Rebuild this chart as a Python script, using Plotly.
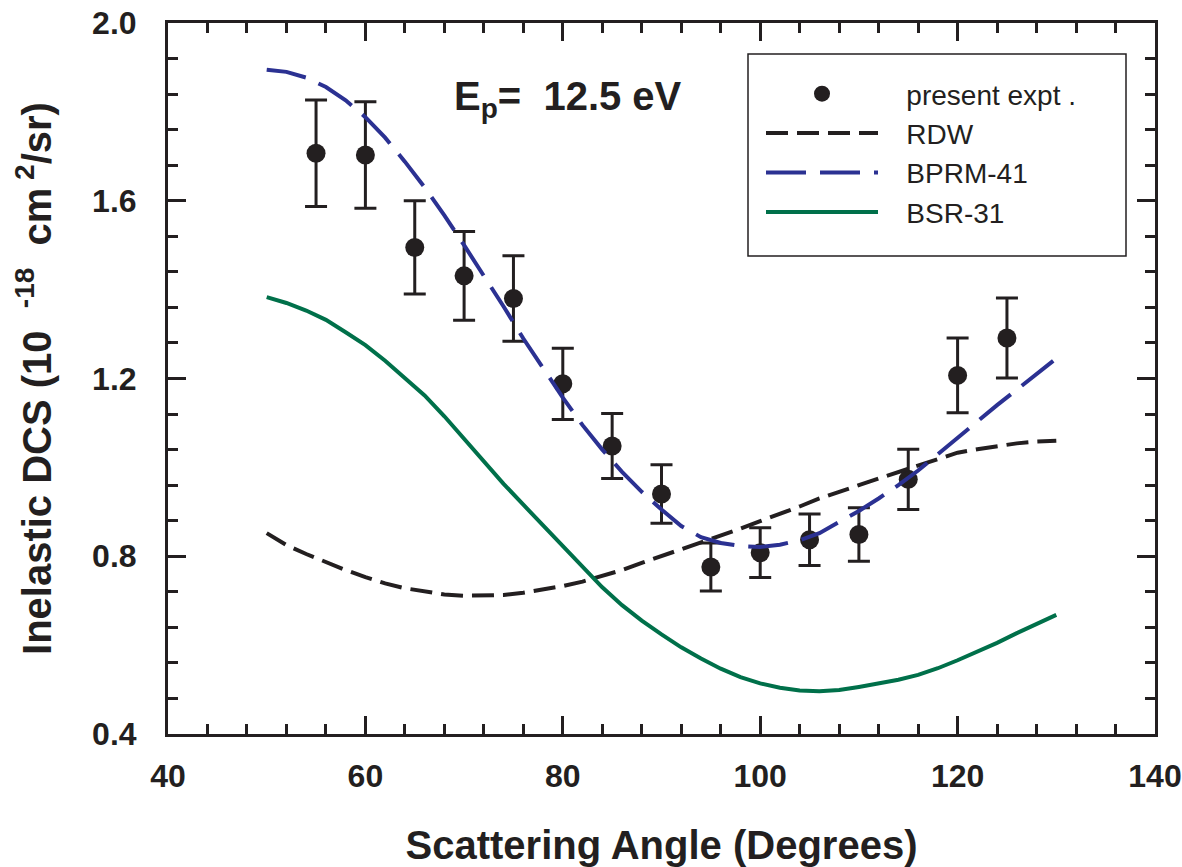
import plotly.graph_objects as go

# Experimental data (present expt.)
expt_angle = [55, 60, 65, 70, 75, 80, 85, 90, 95, 100, 105, 110, 115, 120, 125]
expt_dcs = [1.707, 1.703, 1.495, 1.431, 1.380, 1.188, 1.048, 0.940, 0.776, 0.808, 0.837, 0.849, 0.973, 1.207, 1.291]
expt_err = [0.120, 0.120, 0.105, 0.100, 0.096, 0.080, 0.073, 0.066, 0.054, 0.056, 0.058, 0.060, 0.068, 0.084, 0.090]

# Theory curves
theory_angle = [50, 52, 54, 56, 58, 60, 62, 64, 66, 68, 70, 72, 74, 76, 78, 80, 82, 84, 86, 88, 90,
                92, 94, 96, 98, 100, 102, 104, 106, 108, 110, 112, 114, 116, 118, 120, 122, 124, 126, 128, 130]
rdw = [0.852, 0.825, 0.805, 0.786, 0.769, 0.753, 0.739, 0.728, 0.720, 0.714, 0.711, 0.711, 0.713, 0.718,
       0.725, 0.733, 0.743, 0.756, 0.769, 0.785, 0.800, 0.815, 0.830, 0.846, 0.862, 0.879, 0.895, 0.912,
       0.930, 0.946, 0.960, 0.975, 0.990, 1.005, 1.020, 1.033, 1.041, 1.048, 1.054, 1.058, 1.060]
bprm41 = [1.895, 1.890, 1.877, 1.856, 1.826, 1.788, 1.742, 1.688, 1.630, 1.567, 1.500, 1.432, 1.362,
          1.290, 1.222, 1.157, 1.095, 1.040, 0.990, 0.945, 0.905, 0.868, 0.843, 0.830, 0.823, 0.821,
          0.826, 0.836, 0.852, 0.876, 0.902, 0.930, 0.960, 0.993, 1.030, 1.068, 1.105, 1.140, 1.175,
          1.210, 1.245]
bsr31 = [1.383, 1.370, 1.353, 1.332, 1.304, 1.275, 1.240, 1.200, 1.162, 1.115, 1.064, 1.014, 0.963,
         0.916, 0.870, 0.823, 0.775, 0.730, 0.690, 0.655, 0.624, 0.595, 0.570, 0.547, 0.528, 0.514,
         0.504, 0.498, 0.496, 0.499, 0.506, 0.513, 0.522, 0.533, 0.548, 0.566, 0.585, 0.605, 0.627,
         0.648, 0.668]

x_ticks = [40, 60, 80, 100, 120, 140]
y_ticks = [0.4, 0.8, 1.2, 1.6, 2.0]
y_ticklabels = ["0.4", "0.8", "1.2", "1.6", "2.0"]

INK = "#231f20"
FONT = "Arial, 'Liberation Sans', sans-serif"
LEAD = "\u00a0\u00a0\u00a0"

fig = go.Figure()

fig.add_trace(go.Scatter(
    x=expt_angle, y=expt_dcs, mode="markers", name=LEAD + "present expt .", legendrank=1,
    marker=dict(color=INK, size=19),
    error_y=dict(type="data", array=expt_err, visible=True, color=INK, thickness=3, width=11),
))
fig.add_trace(go.Scatter(
    x=theory_angle, y=rdw, mode="lines", name=LEAD + "RDW", legendrank=2,
    line=dict(color=INK, width=4, dash="22px,9px"),
))
fig.add_trace(go.Scatter(
    x=theory_angle, y=bprm41, mode="lines", name=LEAD + "BPRM-41", legendrank=3,
    line=dict(color="#2b3192", width=4, dash="40px,14px"),
))
fig.add_trace(go.Scatter(
    x=theory_angle, y=bsr31, mode="lines", name=LEAD + "BSR-31", legendrank=4,
    line=dict(color="#00704a", width=4),
))

axis_common = dict(
    showline=True, linecolor=INK, linewidth=3, mirror="ticks",
    ticks="inside", ticklen=18, tickwidth=2.5, tickcolor=INK,
    showgrid=False, zeroline=False,
    tickfont=dict(family=FONT, size=32, color=INK, weight="bold"),
)

fig.update_xaxes(
    range=[40, 140], tickmode="array", tickvals=x_ticks,
    minor=dict(dtick=4, tick0=40, ticks="inside", ticklen=10, tickwidth=2.5, tickcolor=INK, showgrid=False),
    title=dict(text="Scattering Angle (Degrees)", font=dict(family=FONT, size=40, color=INK, weight="bold"),
               standoff=58),
    ticklabelstandoff=12,
    **axis_common,
)
fig.update_yaxes(
    range=[0.4, 2.0], tickmode="array", tickvals=y_ticks, ticktext=y_ticklabels,
    minor=dict(dtick=0.08, tick0=0.4, ticks="inside", ticklen=10, tickwidth=2.5, tickcolor=INK, showgrid=False),
    title=dict(text="Inelastic DCS (10\u00a0\u00a0<sup>-18</sup>\u00a0\u00a0cm<sup>\u00a02</sup>/sr)",
               font=dict(family=FONT, size=40, color=INK, weight="bold"), standoff=29),
    ticklabelstandoff=22,
    **axis_common,
)

fig.add_annotation(
    x=68.8, y=1.83, xref="x", yref="y", xanchor="left", yanchor="middle",
    text="E<sub>p</sub>=\u00a0 12.5 eV", showarrow=False,
    font=dict(family=FONT, size=40, color=INK, weight="bold"),
)

# legend frame
fig.add_shape(
    type="rect", xref="paper", yref="paper",
    x0=(748 - 168) / 987, x1=(1126 - 168) / 987,
    y0=(734 - 256) / 711, y1=(734 - 54) / 711,
    line=dict(color=INK, width=1.5), fillcolor="rgba(0,0,0,0)", layer="above",
)

fig.update_layout(
    width=1182, height=867,
    margin=dict(l=168, r=27, t=23, b=133, autoexpand=False),
    paper_bgcolor="white", plot_bgcolor="white",
    showlegend=True,
    legend=dict(
        x=(761 - 168) / 987, y=(734 - 69) / 711, xanchor="left", yanchor="top",
        bgcolor="rgba(0,0,0,0)", borderwidth=0,
        font=dict(family=FONT, size=28, color=INK),
        itemwidth=112, itemclick=False,
    ),
)

fig.write_html("out.html", config={"displayModeBar": False},
               post_script="document.body.style.margin='0px';")
